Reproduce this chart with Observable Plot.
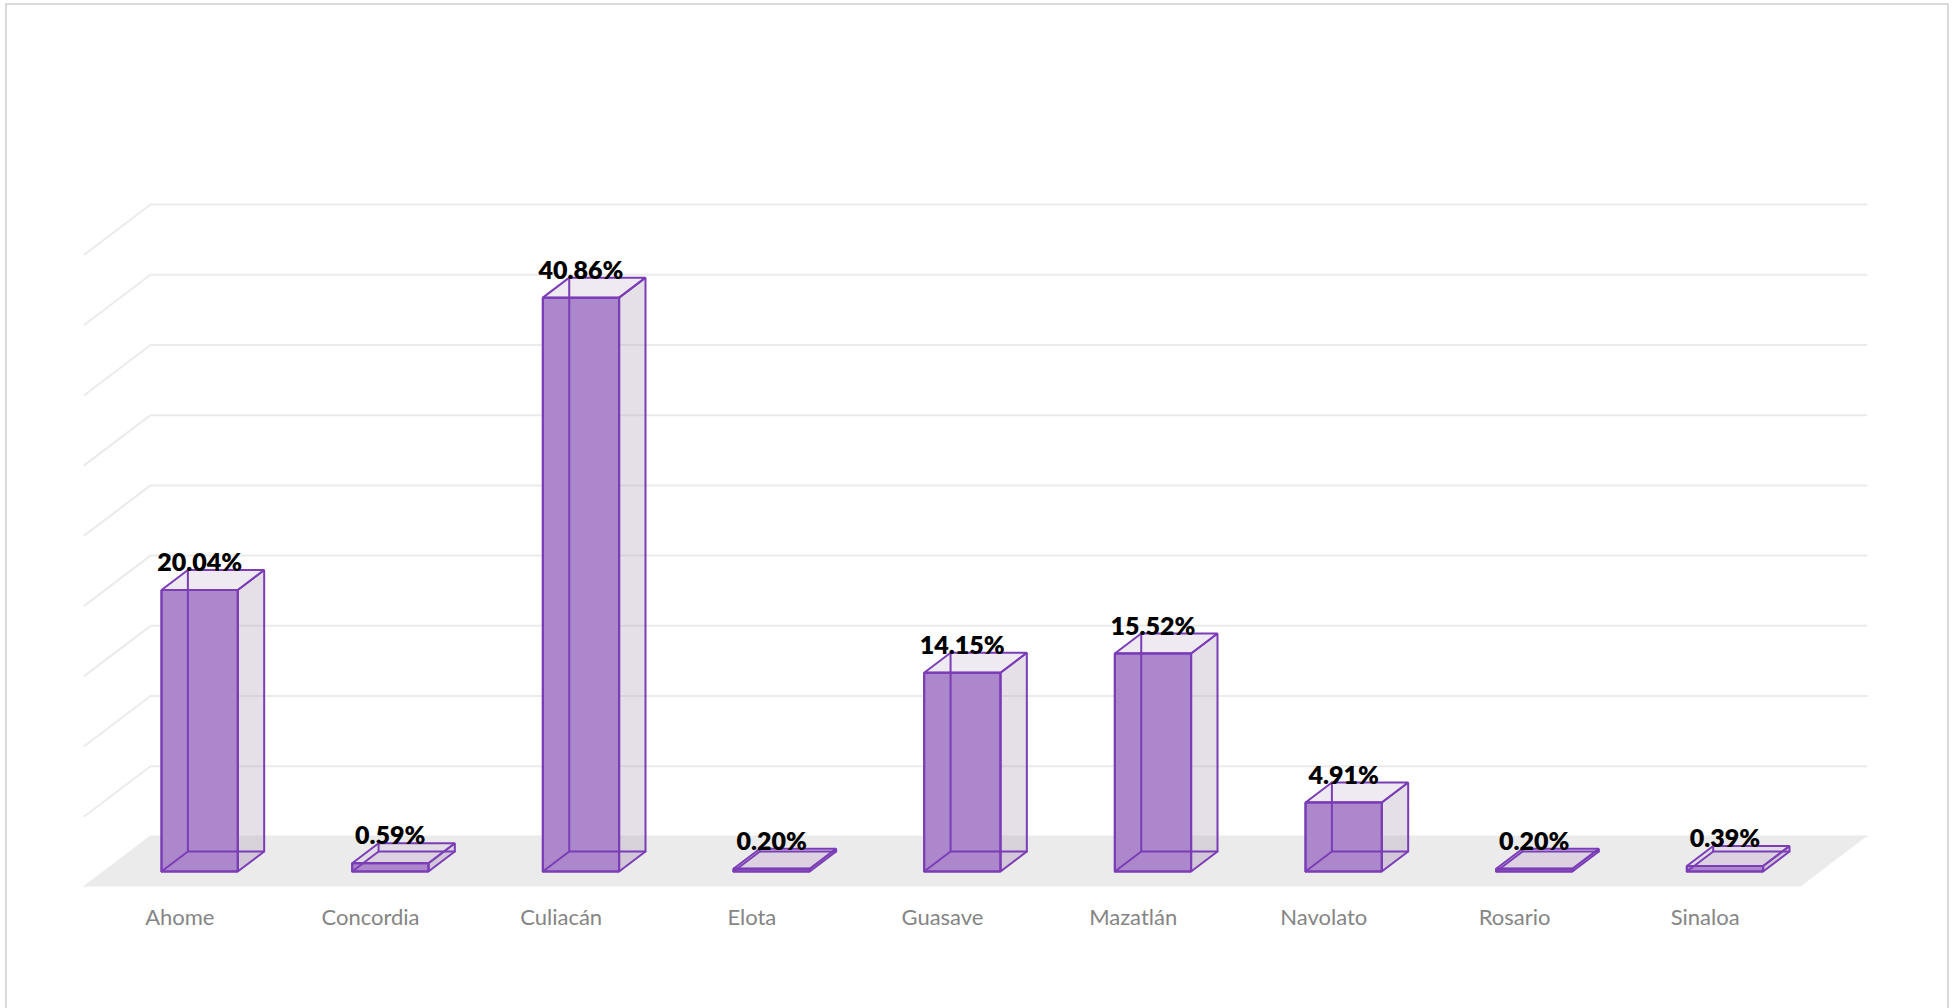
<!DOCTYPE html>
<html>
<head>
<meta charset="utf-8">
<script src="https://cdn.jsdelivr.net/npm/d3@7"></script>
<script src="https://cdn.jsdelivr.net/npm/@observablehq/plot@0.6"></script>
<style>
html, body { margin: 0; padding: 0; overflow: hidden; background: #fff; }
#wrap { position: relative; width: 1956px; height: 1008px; }
#chart { position: absolute; left: 0; top: 0; }
#border { position: absolute; left: 5px; top: 3px; width: 1944px; height: 1030px; border: 2px solid #d9d9d9; box-sizing: border-box; pointer-events: none; }
</style>
</head>
<body>
<div id="wrap"><div id="chart"></div><div id="border"></div></div>
<script>
// ---- data ----
const categories = ["Ahome", "Concordia", "Culiacán", "Elota", "Guasave", "Mazatlán", "Navolato", "Rosario", "Sinaloa"];
const values = [20.04, 0.59, 40.86, 0.20, 14.15, 15.52, 4.91, 0.20, 0.39];
const yTicks = [0, 5, 10, 15, 20, 25, 30, 35, 40, 45];

// ---- layout (pixels) ----
const W = 1956, H = 1008;
const xRange = [84, 1800];     // front edge of the floor
const yRange = [886, 254];     // front plane, 0 -> 45
const yMax = 45;
const depthPx = [66, 50];      // oblique depth vector (right, up)

const n = categories.length;
const DX = depthPx[0] / ((xRange[1] - xRange[0]) / n);
const DY = depthPx[1] / ((yRange[0] - yRange[1]) / yMax);
// oblique projection into data units: category index, value, depth (0 front .. 1 back)
const P = (xi, v, d) => ({x: xi + d * DX, y: v + d * DY});

const purple = "#7b3db6";

// floor
const floorPts = [P(0, 0, 0), P(n, 0, 0), P(n, 0, 1), P(0, 0, 1)].map(p => ({...p, id: "floor"}));

// gridlines (left wall diagonal + back wall)
const gridPts = [];
yTicks.forEach(t => {
  [P(0, t, 0), P(0, t, 1), P(n, t, 1)].forEach(p => gridPts.push({...p, id: "g" + t}));
});

// bar faces
const frontPts = [], rightPts = [], topPts = [], bottomPts = [], hiddenPts = [];
const b0 = 0.3, b1 = 0.7, d0 = 0.3, d1 = 0.7;
values.forEach((v, i) => {
  [P(i + b0, 0, d0), P(i + b1, 0, d0), P(i + b1, v, d0), P(i + b0, v, d0)].forEach(p => frontPts.push({...p, id: i}));
  [P(i + b1, 0, d0), P(i + b1, 0, d1), P(i + b1, v, d1), P(i + b1, v, d0)].forEach(p => rightPts.push({...p, id: i}));
  [P(i + b0, v, d0), P(i + b1, v, d0), P(i + b1, v, d1), P(i + b0, v, d1)].forEach(p => topPts.push({...p, id: i}));
  [P(i + b0, 0, d0), P(i + b1, 0, d0), P(i + b1, 0, d1), P(i + b0, 0, d1)].forEach(p => bottomPts.push({...p, id: i}));
  [P(i + b0, 0, d0), P(i + b0, 0, d1), P(i + b1, 0, d1)].forEach(p => hiddenPts.push({...p, id: "a" + i}));
  [P(i + b0, 0, d1), P(i + b0, v, d1)].forEach(p => hiddenPts.push({...p, id: "b" + i}));
});

// labels
const valueLabels = values.map((v, i) => {
  const px = P(i + 0.5, v, d0), py = P(i + 0.5, v, d1);
  return {x: px.x, y: py.y, text: v.toFixed(2) + "%"};
});
const catLabels = categories.map((c, i) => ({x: i + 0.5, y: 0, text: c}));

const poly = (data, fill, fillOpacity, stroke) => Plot.line(data, {
  x: "x", y: "y", z: "id", curve: "linear-closed",
  fill, fillOpacity, stroke: stroke || "none", strokeWidth: 2, strokeLinejoin: "miter"
});

const chart = Plot.plot({
  width: W,
  height: H,
  margin: 0,
  style: {background: "transparent", overflow: "visible"},
  x: {type: "linear", domain: [0, n], range: xRange, axis: null},
  y: {type: "linear", domain: [0, yMax], range: yRange, axis: null},
  marks: [
    poly(floorPts, "#ebebeb", 1, null),
    Plot.line(gridPts, {x: "x", y: "y", z: "id", stroke: "#ebebeb", strokeWidth: 2}),
    poly(bottomPts, purple, 0.10, null),
    poly(rightPts, "#b4a6bd", 0.35, purple),
    poly(topPts, "#d1c3d7", 0.35, purple),
    poly(frontPts, "#ad87cb", 1, purple),
    Plot.line(hiddenPts, {x: "x", y: "y", z: "id", stroke: purple, strokeWidth: 2}),
    poly(frontPts, "none", 1, purple),
    Plot.text(valueLabels, {x: "x", y: "y", text: "text", lineAnchor: "bottom", dy: 1,
      fontSize: 25, fontWeight: 800, fontFamily: "Lato", fill: "#000"}),
    Plot.text(catLabels, {x: "x", y: "y", text: "text", lineAnchor: "bottom", dy: 38,
      fontSize: 22, fontFamily: "Lato", fill: "#858585"})
  ]
});
document.getElementById("chart").appendChild(chart);
</script>
</body>
</html>
